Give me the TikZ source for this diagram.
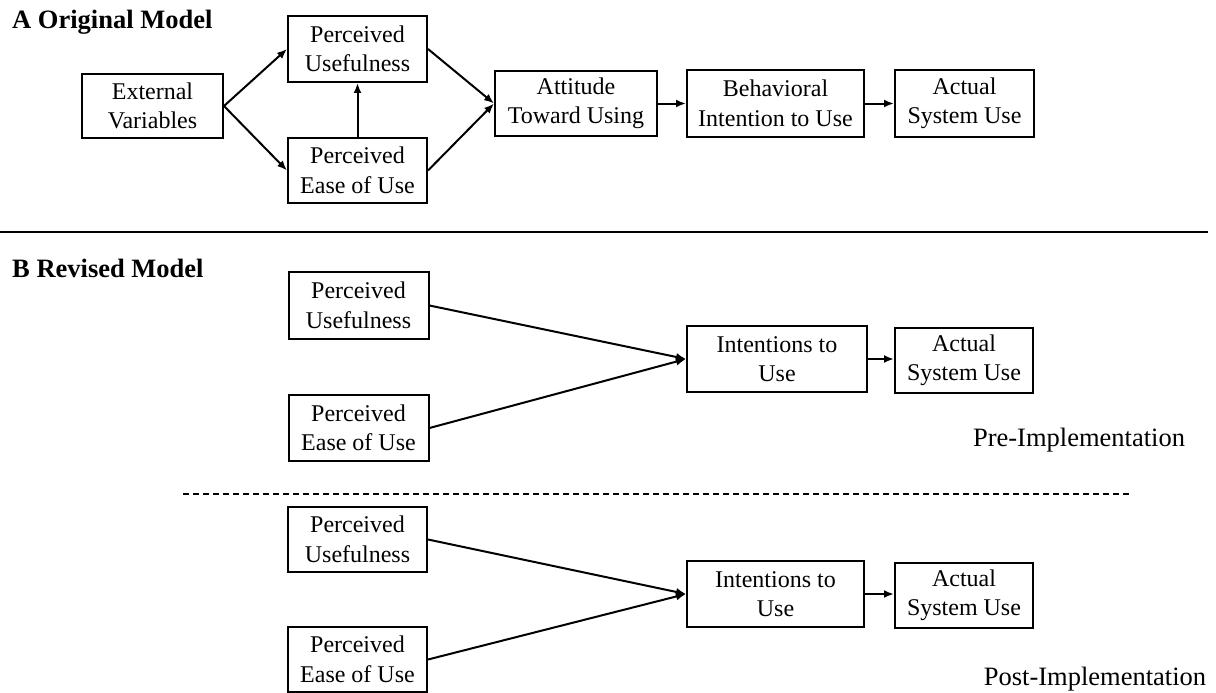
\documentclass[tikz,border=0pt]{standalone}
\usepackage{fontspec}
\setmainfont{Liberation Serif}
\usetikzlibrary{arrows.meta}
\tikzset{
  boxnode/.style={draw, line width=2pt, inner sep=0pt, align=center, font=\fontsize{24}{29.5}\selectfont},
  conn/.style={line width=2pt, -{Latex[length=10pt,width=8pt]}},
  plainlab/.style={font=\fontsize{26.5}{30}\selectfont, inner sep=0pt},
  titlelab/.style={font=\bfseries\fontsize{26.5}{30}\selectfont, inner sep=0pt, anchor=west}
}
\begin{document}
\begin{tikzpicture}[x=1pt,y=-1pt]
\useasboundingbox (0,0) rectangle (1216,693);
% Part A
\node[titlelab] (tA) at (12,22) {A Original Model};
\node[boxnode, minimum width=141pt, minimum height=64pt] (EV) at (152.5,106) {External\\Variables};
\node[boxnode, minimum width=139pt, minimum height=66pt] (PUa) at (357.5,49) {Perceived\\Usefulness};
\node[boxnode, minimum width=139pt, minimum height=65pt] (PEa) at (357.5,170.5) {Perceived\\Ease of Use};
\node[boxnode, minimum width=162pt, minimum height=65pt] (ATT) at (576,103.5) {Attitude\\Toward Using};
\node[boxnode, minimum width=177pt, minimum height=66pt] (BI) at (775.5,103.5) {Behavioral\\Intention to Use};
\node[boxnode, minimum width=139pt, minimum height=67pt] (ASa) at (964.5,103.5) {Actual\\System Use};
\draw[conn] (EV.east) -- (PUa.west);
\draw[conn] (EV.east) -- (PEa.west);
\draw[conn] (PEa.north) -- (PUa.south);
\draw[conn] (PUa.east) -- (ATT.west);
\draw[conn] (PEa.east) -- (ATT.west);
\draw[conn] (ATT.east) -- (BI.west);
\draw[conn] (BI.east) -- (ASa.west);
% separator
\coordinate (sepL) at (0,232);
\coordinate (sepR) at (1208,232);
\draw[line width=2pt] (sepL) -- (sepR);
% Part B
\node[titlelab] (tB) at (12,268) {B Revised Model};
\node[boxnode, minimum width=140pt, minimum height=67pt] (PUb) at (358.5,305.5) {Perceived\\Usefulness};
\node[boxnode, minimum width=140pt, minimum height=66pt] (PEb) at (358.5,428) {Perceived\\Ease of Use};
\node[boxnode, minimum width=180pt, minimum height=66pt] (INb) at (777,359) {Intentions to\\Use};
\node[boxnode, minimum width=138pt, minimum height=65pt] (ASb) at (964,360.5) {Actual\\System Use};
\draw[conn] (PUb.east) -- (INb.west);
\draw[conn] (PEb.east) -- (INb.west);
\draw[conn] (INb.east) -- (INb.east -| ASb.west);
\node[plainlab] (pre) at (1079,440) {Pre-Implementation};
% dashed separator
\coordinate (dL) at (183,494);
\coordinate (dR) at (1130,494);
\draw[line width=1.6pt, dash pattern=on 6pt off 4pt] (dL) -- (dR);
\node[boxnode, minimum width=139pt, minimum height=65pt] (PUc) at (357.5,539.5) {Perceived\\Usefulness};
\node[boxnode, minimum width=139pt, minimum height=65pt] (PEc) at (357.5,659.5) {Perceived\\Ease of Use};
\node[boxnode, minimum width=177pt, minimum height=66pt] (INc) at (775.5,594) {Intentions to\\Use};
\node[boxnode, minimum width=138pt, minimum height=65pt] (ASc) at (964,595.5) {Actual\\System Use};
\draw[conn] (PUc.east) -- (INc.west);
\draw[conn] (PEc.east) -- (INc.west);
\draw[conn] (INc.east) -- (INc.east -| ASc.west);
\node[plainlab] (post) at (1095,679) {Post-Implementation};
\end{tikzpicture}
\end{document}
